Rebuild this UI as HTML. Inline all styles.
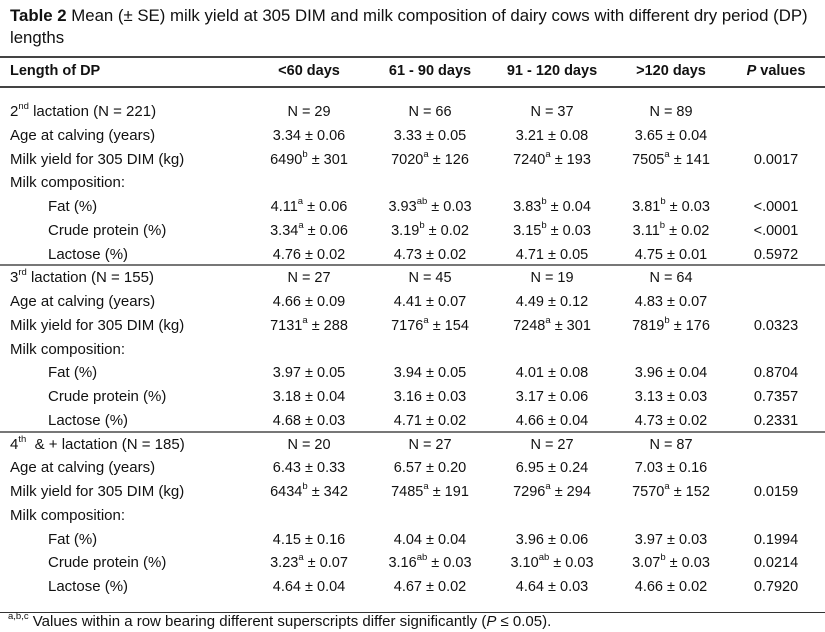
<!DOCTYPE html>
<html><head><meta charset="utf-8">
<style>
*{margin:0;padding:0;box-sizing:border-box}
body{width:825px;height:631px;background:#fff;position:relative;overflow:hidden;font-family:"Liberation Sans",Arial,sans-serif;color:#111;font-size:14.5px}
.title{position:absolute;left:10px;top:5px;font-size:16.8px;line-height:22px;width:815px;white-space:nowrap}
.rule{position:absolute;left:0;width:825px;background:#444}
.row{position:absolute;left:0;width:825px;height:20px;line-height:20px}
.lab{position:absolute;left:10px;white-space:nowrap;font-size:15px}
.ind{left:48px}
.c{position:absolute;width:140px;text-align:center;white-space:nowrap}
.c1{left:239px}.c2{left:360px}.c3{left:482px}.c4{left:601px}.c5{left:706px}
sup{font-size:9.5px;line-height:0;position:relative;top:-1px}
.hd{font-weight:bold}
.hd .lab{font-size:14.5px}
.foot{position:absolute;left:8px;top:612px;font-size:15px;line-height:20px;white-space:nowrap}
</style></head><body>
<div class="title"><b>Table 2</b> Mean (± SE) milk yield at 305 DIM and milk composition of dairy cows with different dry period (DP)<br>lengths</div>
<div class="rule" style="top:56px;height:1.5px"></div>
<div class="row hd" style="top:61px">
<span class="lab">Length of DP</span><span class="c c1">&lt;60 days</span><span class="c c2">61 - 90 days</span><span class="c c3">91 - 120 days</span><span class="c c4">&gt;120 days</span><span class="c c5"><i>P</i> values</span></div>
<div class="rule" style="top:86px;height:1.5px"></div>
<div class="rule" style="top:264px;height:2px;background:#777"></div>
<div class="rule" style="top:431px;height:2px;background:#777"></div>
<div class="rule" style="top:612px;height:1px;background:#333"></div>
<div id="rows"></div>
<div class="foot"><sup>a,b,c</sup> Values within a row bearing different superscripts differ significantly (<i>P</i> ≤ 0.05).</div>
<script>
const rows=[
['2<sup>nd</sup> lactation (N = 221)',0,'N = 29','N = 66','N = 37','N = 89',''],
['Age at calving (years)',0,'3.34 ± 0.06','3.33 ± 0.05','3.21 ± 0.08','3.65 ± 0.04',''],
['Milk yield for 305 DIM (kg)',0,'6490<sup>b</sup> ± 301','7020<sup>a</sup> ± 126','7240<sup>a</sup> ± 193','7505<sup>a</sup> ± 141','0.0017'],
['Milk composition:',0,'','','','',''],
['Fat (%)',1,'4.11<sup>a</sup> ± 0.06','3.93<sup>ab</sup> ± 0.03','3.83<sup>b</sup> ± 0.04','3.81<sup>b</sup> ± 0.03','&lt;.0001'],
['Crude protein (%)',1,'3.34<sup>a</sup> ± 0.06','3.19<sup>b</sup> ± 0.02','3.15<sup>b</sup> ± 0.03','3.11<sup>b</sup> ± 0.02','&lt;.0001'],
['Lactose (%)',1,'4.76 ± 0.02','4.73 ± 0.02','4.71 ± 0.05','4.75 ± 0.01','0.5972'],
['3<sup>rd</sup> lactation (N = 155)',0,'N = 27','N = 45','N = 19','N = 64',''],
['Age at calving (years)',0,'4.66 ± 0.09','4.41 ± 0.07','4.49 ± 0.12','4.83 ± 0.07',''],
['Milk yield for 305 DIM (kg)',0,'7131<sup>a</sup> ± 288','7176<sup>a</sup> ± 154','7248<sup>a</sup> ± 301','7819<sup>b</sup> ± 176','0.0323'],
['Milk composition:',0,'','','','',''],
['Fat (%)',1,'3.97 ± 0.05','3.94 ± 0.05','4.01 ± 0.08','3.96 ± 0.04','0.8704'],
['Crude protein (%)',1,'3.18 ± 0.04','3.16 ± 0.03','3.17 ± 0.06','3.13 ± 0.03','0.7357'],
['Lactose (%)',1,'4.68 ± 0.03','4.71 ± 0.02','4.66 ± 0.04','4.73 ± 0.02','0.2331'],
['4<sup>th</sup>&nbsp; &amp; + lactation (N = 185)',0,'N = 20','N = 27','N = 27','N = 87',''],
['Age at calving (years)',0,'6.43 ± 0.33','6.57 ± 0.20','6.95 ± 0.24','7.03 ± 0.16',''],
['Milk yield for 305 DIM (kg)',0,'6434<sup>b</sup> ± 342','7485<sup>a</sup> ± 191','7296<sup>a</sup> ± 294','7570<sup>a</sup> ± 152','0.0159'],
['Milk composition:',0,'','','','',''],
['Fat (%)',1,'4.15 ± 0.16','4.04 ± 0.04','3.96 ± 0.06','3.97 ± 0.03','0.1994'],
['Crude protein (%)',1,'3.23<sup>a</sup> ± 0.07','3.16<sup>ab</sup> ± 0.03','3.10<sup>ab</sup> ± 0.03','3.07<sup>b</sup> ± 0.03','0.0214'],
['Lactose (%)',1,'4.64 ± 0.04','4.67 ± 0.02','4.64 ± 0.03','4.66 ± 0.02','0.7920']
];
const host=document.getElementById('rows');
rows.forEach((r,i)=>{
  const d=document.createElement('div');
  d.className='row';
  d.style.top=(112+23.75*i-10)+'px';
  
  
  let h='<span class="lab'+(r[1]?' ind':'')+'">'+r[0]+'</span>';
  for(let k=2;k<7;k++)h+='<span class="c c'+(k-1)+'">'+r[k]+'</span>';
  d.innerHTML=h;
  host.appendChild(d);
});
</script>
</body></html>
